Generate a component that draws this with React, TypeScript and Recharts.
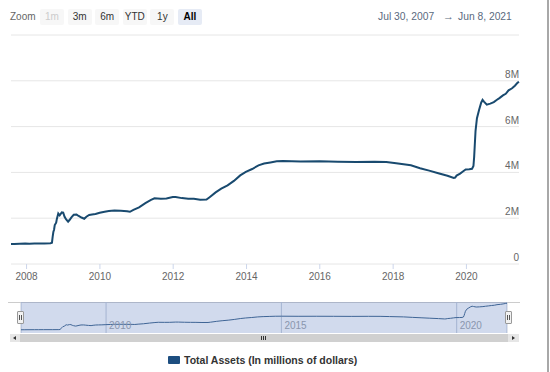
import React from "react";
import { CartesianGrid, Line, LineChart, ReferenceArea, XAxis, YAxis } from "recharts";

// Fed total assets, weekly-ish samples (millions of dollars)
const dates = [
  "2007-07-30", "2007-09-01", "2007-12-19", "2008-01-30", "2008-03-19", "2008-06-25", "2008-08-27",
  "2008-09-10", "2008-09-17", "2008-09-24", "2008-10-01", "2008-10-08", "2008-10-22", "2008-10-29",
  "2008-11-12", "2008-11-26", "2008-12-17", "2008-12-31", "2009-01-14", "2009-01-28", "2009-02-18",
  "2009-03-04", "2009-03-25", "2009-04-15", "2009-05-13", "2009-06-03", "2009-07-01", "2009-07-29",
  "2009-08-19", "2009-09-16", "2009-10-14", "2009-11-18", "2009-12-30", "2010-02-17", "2010-03-31",
  "2010-05-26", "2010-07-28", "2010-09-29", "2010-10-27", "2010-12-01", "2011-01-26", "2011-03-30",
  "2011-05-25", "2011-06-29", "2011-08-31", "2011-10-26", "2011-12-28", "2012-01-25", "2012-03-28",
  "2012-05-30", "2012-07-25", "2012-09-26", "2012-11-28", "2012-12-26", "2013-02-27", "2013-04-24",
  "2013-06-26", "2013-08-28", "2013-10-30", "2013-12-25", "2014-02-26", "2014-04-30", "2014-06-25",
  "2014-08-27", "2014-10-29", "2014-12-31", "2015-06-24", "2015-12-30", "2016-06-29", "2016-12-28",
  "2017-06-28", "2017-10-25", "2018-01-31", "2018-06-27", "2018-09-26", "2018-12-26", "2019-03-27",
  "2019-06-26", "2019-08-28", "2019-09-11", "2019-09-25", "2019-10-30", "2019-11-27", "2019-12-25",
  "2020-01-29", "2020-02-26", "2020-03-11", "2020-03-18", "2020-03-25", "2020-04-01", "2020-04-15",
  "2020-05-06", "2020-05-27", "2020-06-10", "2020-06-24", "2020-07-22", "2020-08-26", "2020-09-30",
  "2020-10-28", "2020-11-25", "2020-12-30", "2021-01-27", "2021-02-24", "2021-03-31", "2021-04-28",
  "2021-05-26", "2021-06-08",
];
const totalAssets = [
  869000, 872000, 891000, 889000, 897000, 897000, 905000,
  927000, 1186000, 1397000, 1496000, 1700000, 1802000, 1970000,
  2204000, 2122000, 2256000, 2240000, 2062000, 1955000, 1850000,
  1920000, 2050000, 2150000, 2157000, 2097000, 2030000, 1975000,
  2063000, 2139000, 2159000, 2182000, 2237000, 2285000, 2313000,
  2337000, 2321000, 2301000, 2280000, 2364000, 2475000, 2659000,
  2800000, 2867000, 2853000, 2858000, 2927000, 2924000, 2877000,
  2853000, 2845000, 2808000, 2812000, 2907000, 3127000, 3287000,
  3433000, 3628000, 3868000, 4024000, 4148000, 4308000, 4388000,
  4436000, 4488000, 4498000, 4474000, 4483000, 4470000, 4451000,
  4467000, 4456000, 4398000, 4312000, 4184000, 4077000, 3964000,
  3854000, 3761000, 3774000, 3859000, 3945000, 4042000, 4128000,
  4141000, 4159000, 4279000, 4669000, 5254000, 5816000, 6368000,
  6725000, 7043000, 7168000, 7092000, 6955000, 7002000, 7068000,
  7164000, 7246000, 7362000, 7431000, 7582000, 7674000, 7784000,
  7920000, 7953000,
];
const yearTicks = [2008, 2010, 2012, 2014, 2016, 2018, 2020];
const navYears = [2010, 2015, 2020];
const yTicks = [0, 2000000, 4000000, 6000000, 8000000, 10000000];
const rangeButtons = ["1m", "3m", "6m", "YTD", "1y", "All"];
const seriesName = "Total Assets (In millions of dollars)";

const rows = dates.map((d, i) => ({ t: Date.parse(d), v: totalAssets[i] }));
const tStart = rows[0].t;
const tEnd = rows[rows.length - 1].t;
const font = '"Liberation Sans", Arial, sans-serif';

const lineColor = "#194a6f";

function YLabel(props: any) {
  const { y, payload } = props;
  if (payload.value >= 10000000) return <g />;
  const txt = payload.value === 0 ? "0" : `${payload.value / 1000000}M`;
  return (
    <text x={519} y={y - 3} textAnchor="end" fontSize={10} fill="#666" fontFamily={font}>
      {txt}
    </text>
  );
}

function NavLabel(props: any) {
  const { x, payload } = props;
  return (
    <text x={x + 3} y={27} textAnchor="start" fontSize={10} fill="#8a96ad" fontFamily={font}>
      {new Date(payload.value).getUTCFullYear()}
    </text>
  );
}

const abs = (s: React.CSSProperties): React.CSSProperties => ({ position: "absolute", ...s });

export default function App() {
  return (
    <div style={abs({ left: 0, top: 0, width: 550, height: 372, background: "#fff", fontFamily: font, overflow: "hidden" })}>
      {/* range selector */}
      <div style={abs({ left: 10, top: 11, fontSize: 10, color: "#666", lineHeight: "12px" })}>Zoom</div>
      {rangeButtons.map((b, i) => {
        const sel = b === "All";
        const dis = b === "1m";
        return (
          <div
            key={b}
            style={abs({
              left: 40 + i * 27.6,
              top: 9,
              width: 24,
              height: 16,
              lineHeight: "16px",
              textAlign: "center",
              fontSize: 10,
              background: sel ? "#e6ebf5" : "#f7f7f7",
              color: dis ? "#cccccc" : sel ? "#000" : "#333",
              fontWeight: sel ? "bold" : "normal",
              borderRadius: 2,
            })}
          >
            {b}
          </div>
        );
      })}
      <div style={abs({ left: 378, top: 11, fontSize: 10.3, color: "#5a6a80", lineHeight: "12px", whiteSpace: "nowrap" })}>
        Jul 30, 2007
      </div>
      <div style={abs({ left: 443, top: 10, fontSize: 11, color: "#5a6a80", lineHeight: "12px" })}>→</div>
      <div style={abs({ left: 458, top: 11, fontSize: 10.3, color: "#5a6a80", lineHeight: "12px", whiteSpace: "nowrap" })}>
        Jun 8, 2021
      </div>

      {/* main chart */}
      <div style={abs({ left: 0, top: 0 })}>
        <LineChart width={550} height={290} data={rows} margin={{ top: 35, right: 1, left: 11, bottom: 0 }}>
          <CartesianGrid horizontal vertical={false} stroke="#e6e6e6" />
          <XAxis
            dataKey="t"
            type="number"
            domain={[tStart, tEnd]}
            ticks={yearTicks.map((y) => Date.UTC(y, 0, 1))}
            tickFormatter={(v: number) => String(new Date(v).getUTCFullYear())}
            height={26}
            axisLine={false}
            tickLine={{ stroke: "#ccd6eb" }}
            tickSize={5}
            tickMargin={4}
            tick={{ fontSize: 10, fill: "#666", fontFamily: font }}
          />
          <YAxis
            orientation="right"
            width={30}
            domain={[0, 10000000]}
            ticks={yTicks}
            axisLine={false}
            tickLine={false}
            tick={YLabel}
          />
          <Line dataKey="v" type="linear" stroke={lineColor} strokeWidth={2} dot={false} isAnimationActive={false} />
        </LineChart>
      </div>

      {/* navigator */}
      <div style={abs({ left: 8, top: 302, width: 512, height: 1, background: "#cccccc" })} />
      <div style={abs({ left: 0, top: 302 })}>
        <LineChart width={550} height={40} data={rows} margin={{ top: 0, right: 43, left: 21, bottom: 0 }}>
          <CartesianGrid horizontal={false} vertical stroke="#bfc8d8" />
          <XAxis
            dataKey="t"
            type="number"
            domain={[tStart, tEnd]}
            ticks={navYears.map((y) => Date.UTC(y, 0, 1))}
            height={9}
            axisLine={false}
            tickLine={false}
            tick={NavLabel}
          />
          <YAxis hide domain={[0, 8300000]} />
          <ReferenceArea x1={tStart} x2={tEnd} fill="#6685c2" fillOpacity={0.3} stroke="none" />
          <Line dataKey="v" type="linear" stroke="#3f6596" strokeWidth={1} dot={false} isAnimationActive={false} />
        </LineChart>
      </div>
      {/* handles */}
      {[17, 505].map((l) => (
        <div
          key={l}
          style={abs({ left: l, top: 311, width: 5, height: 11, background: "#f2f2f2", border: "1px solid #999", borderRadius: 1 })}
        >
          <div style={abs({ left: 1, top: 3, width: 1, height: 5, background: "#555" })} />
          <div style={abs({ left: 3, top: 3, width: 1, height: 5, background: "#555" })} />
        </div>
      ))}

      {/* scrollbar */}
      <div style={abs({ left: 10, top: 334, width: 10, height: 8, background: "#e6e6e6" })}>
        <div style={abs({ left: 3, top: 2, width: 0, height: 0, borderTop: "2px solid transparent", borderBottom: "2px solid transparent", borderRight: "3px solid #333" })} />
      </div>
      <div style={abs({ left: 20, top: 334, width: 488, height: 8, background: "#d0d0d0" })}>
        {[0, 2, 4].map((o) => (
          <div key={o} style={abs({ left: 241 + o, top: 2, width: 1, height: 4, background: "#333" })} />
        ))}
      </div>
      <div style={abs({ left: 508, top: 334, width: 11, height: 8, background: "#e6e6e6" })}>
        <div style={abs({ left: 4, top: 2, width: 0, height: 0, borderTop: "2px solid transparent", borderBottom: "2px solid transparent", borderLeft: "3px solid #333" })} />
      </div>

      {/* legend */}
      <div style={abs({ left: 168, top: 356, width: 12, height: 8, background: "#1d4e80", borderRadius: 1 })} />
      <div style={abs({ left: 184, top: 353, fontSize: 10.5, fontWeight: "bold", color: "#333", lineHeight: "14px", whiteSpace: "nowrap" })}>
        {seriesName}
      </div>

      {/* right frame edge */}
      <div style={abs({ left: 547, top: 0, width: 2, height: 372, background: "#a8a8a8" })} />
    </div>
  );
}
